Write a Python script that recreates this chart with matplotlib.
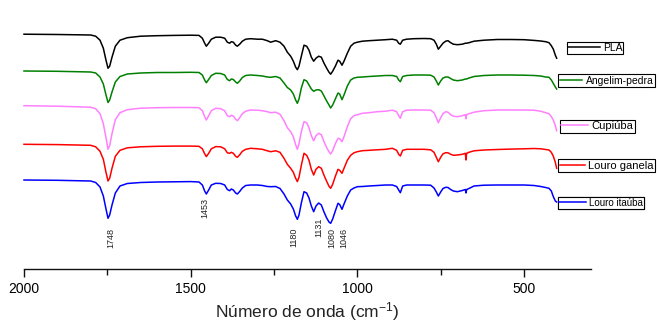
import numpy as np
import matplotlib
matplotlib.use("Agg")
import matplotlib.pyplot as plt
from matplotlib.ticker import FixedLocator

plt.rcParams['font.family'] = ['Liberation Sans', 'DejaVu Sans']
plt.rcParams['mathtext.fontset'] = 'custom'
plt.rcParams['mathtext.rm'] = 'Liberation Sans'
plt.rcParams['mathtext.it'] = 'Liberation Sans:italic'

# ---------------- data ----------------
wavenumber = [
    2000, 1900, 1800, 1785, 1772, 1762, 1754, 1748, 1743, 1736,
    1726, 1712, 1690, 1650, 1600, 1550, 1500, 1475, 1465, 1458,
    1453, 1446, 1438, 1425, 1410, 1398, 1390, 1383, 1378, 1372,
    1365, 1360, 1353, 1345, 1335, 1320, 1300, 1285, 1270, 1260,
    1245, 1232, 1220, 1210, 1200, 1192, 1185, 1180, 1175, 1168,
    1160, 1152, 1145, 1138, 1131, 1124, 1116, 1108, 1100, 1092,
    1085, 1080, 1074, 1066, 1058, 1053, 1046, 1040, 1030, 1020,
    1010, 1000, 985, 965, 940, 915, 895, 882, 876, 871,
    864, 852, 830, 800, 780, 770, 763, 757, 750, 743,
    735, 728, 720, 712, 700, 685, 676, 674, 672, 665,
    650, 620, 580, 540, 500, 470, 450, 435, 425, 418,
    412, 406, 402,
]

# transmittance (%) of each sample
pla = [
    100, 99.7, 99.2, 98, 94, 86, 74, 66, 68, 77,
    88, 94, 96.5, 98, 98.5, 98.8, 99, 98.8, 96, 91,
    88, 91, 95, 97, 97, 96, 92, 91, 92.5, 92,
    89, 88, 90, 93, 95, 95.5, 95, 95, 93.5, 92,
    93.5, 92, 88, 82, 78, 73, 67, 64.5, 68, 78,
    89, 88, 84, 77, 73, 76, 78, 77, 71, 66,
    62, 60, 63, 68, 74, 73, 69, 73, 81, 88,
    91, 92, 93, 93.5, 94, 94.5, 95, 94, 91, 90,
    94, 95, 95.5, 95.7, 95.5, 94, 90, 85, 88, 91,
    93, 93.5, 91.5, 90, 89.5, 90, 91, 91, 91, 91.5,
    93, 94, 94.7, 94.7, 94.5, 93.8, 93.2, 92.5, 91.5, 88.5,
    85, 79, 76,
]
angelim_pedra = [
    100, 99.7, 99, 98, 94, 87, 76, 68.5, 71, 79,
    89, 94.5, 97, 98, 98.5, 98.5, 98.7, 98.5, 96, 91,
    88.3, 91.5, 95.5, 97.7, 97.5, 96, 91.5, 90.3, 92, 91.5,
    89, 87.7, 90, 93.5, 95.5, 96, 95.5, 95, 94, 93.7,
    94.5, 93, 88, 83.5, 81, 77, 71, 67.7, 72, 83,
    91.3, 90, 86, 82, 79.7, 81, 81.3, 80, 75, 70,
    66, 63, 66, 72, 78, 77, 71.3, 76, 85, 91,
    93, 93.7, 94, 94.5, 95, 95.5, 95.5, 94.5, 91, 89.3,
    94.5, 95.5, 96, 96, 95.8, 94, 90, 86, 90, 93,
    94, 94, 92.5, 91, 90.3, 91, 92, 92, 92, 93,
    94.5, 95.5, 96, 96, 95.8, 95.5, 95, 94, 93.7, 91,
    87.5, 84, 82,
]
cupiuba = [
    100, 99.5, 98.5, 97, 92, 82, 68, 56.4, 60, 72,
    86, 93, 96, 97.5, 98, 98.2, 98.2, 98, 95, 89,
    85.7, 90, 95, 97.4, 97, 95, 90, 89, 90.5, 89.5,
    86.5, 85, 88, 92, 94.5, 95.7, 95.5, 95, 94, 93,
    93.5, 91.5, 85, 78, 74, 69, 61, 56.4, 62, 74,
    84, 83, 78, 70, 65, 70, 72.4, 71, 64, 58,
    54, 51.7, 55, 62, 67.4, 67, 64, 69, 79, 87,
    90, 91, 92.4, 93, 94, 94.5, 95.5, 94, 90, 87.4,
    94, 95.5, 95.7, 95.7, 95.5, 93, 88, 83, 88, 92,
    94, 93.5, 91, 89.5, 89, 90, 91, 87, 91, 92,
    93.5, 95, 95.7, 95.7, 95.7, 95.5, 94.5, 93, 92, 89,
    85.7, 80, 75,
]
louro_ganela = [
    100, 99.7, 99, 97.5, 93, 85, 72, 63.3, 66, 76,
    88, 94, 96.5, 97.5, 98, 98.2, 98.2, 98, 95.5, 90.5,
    87.7, 91, 95.5, 97.7, 97.5, 95.5, 91.5, 91, 92, 91,
    88, 87, 89.5, 93, 95, 96, 95.5, 95, 93.5, 92.6,
    93.5, 92, 86, 80, 76, 72, 66, 62.7, 67, 79,
    91, 89, 84, 75, 69.3, 75, 77.6, 76, 69, 63,
    58, 56, 60, 68, 75, 74, 71, 76, 84, 89,
    91.5, 92.6, 93.6, 94, 94.5, 95, 96, 94, 90, 88.3,
    94, 95, 95, 95, 94.5, 92, 87, 82.6, 87, 90.5,
    91.6, 91.5, 90, 89, 89.3, 90, 91, 84.3, 91, 92,
    93.5, 94.3, 94.8, 95.2, 95.5, 95.8, 95.5, 94.8, 94.3, 92,
    88, 82, 76,
]
louro_itauba = [
    100, 99.7, 99, 97.5, 93, 84, 71, 61.7, 65, 75,
    87, 94, 96.5, 97.5, 98, 98.2, 98.4, 98, 95, 89,
    86, 90, 95, 96.7, 96.5, 95, 90.5, 89.3, 91, 90,
    87, 86, 88.5, 92, 94.5, 95, 95, 94.5, 93.5, 93.3,
    93.5, 91.5, 86, 80, 76, 71, 64, 60.7, 65, 77,
    88.3, 87, 82, 74, 68.3, 74, 77, 75, 68, 62,
    58, 56.7, 61, 69, 76.7, 75.5, 70.7, 76, 84, 90,
    92, 93.3, 93.5, 94, 94.5, 95, 95, 93.5, 90, 87.3,
    94, 95, 95, 95, 94.8, 92, 88, 84, 88, 91.5,
    92.7, 92.5, 90.5, 89, 88.3, 89.5, 90.5, 87, 90.5, 91.5,
    94, 94.8, 95, 95, 95, 94.5, 93.5, 92.5, 91.7, 89,
    83.3, 79, 78,
]

series_names = ["PLA", "Angelim-pedra", "Cupiúba", "Louro ganela", "Louro itaúba"]
series_values = [pla, angelim_pedra, cupiuba, louro_ganela, louro_itauba]

peak_labels = ["1748", "1453", "1180", "1131", "1080", "1046"]

axis_ticks = [2000, 1500, 1000, 500]
axis_minor_ticks = [1750, 1250, 750]

# ---------------- layout / style ----------------
W, H = 659, 322
AX_BOTTOM_PX = 268.5
colors = ["#000000", "#008000", "#FF80FF", "#FF0000", "#0000FF"]
offsets = [-134.2, -171.0, -205.7, -244.3, -280.0]   # vertical stacking of traces
label_x = [1740, 1457, 1190, 1117, 1077, 1040]       # text positions
label_top = [-228, -198, -228, -218, -228, -228]
legend_pos = [(567, 41.5), (558.3, 74.3), (560, 120), (558.3, 159.3), (558.3, 196.7)]
legend_fs = [7.5, 7.5, 8, 8, 7]
legend_hl = [3.0, 2.2, 2.4, 2.25, 2.7]

fig = plt.figure(figsize=(W / 100, H / 100), dpi=100)

ax = fig.add_axes([24 / W, (H - AX_BOTTOM_PX) / H, (1700 / 3.0) / W, AX_BOTTOM_PX / H])
ax.set_xlim(2000, 300)
ax.set_ylim(-AX_BOTTOM_PX, 0)
ax.patch.set_visible(False)
for s in ["top", "left", "right"]:
    ax.spines[s].set_visible(False)
ax.spines["bottom"].set_linewidth(1.0)
ax.spines["bottom"].set_color("#111111")
ax.set_yticks([])

lines = []
for name, vals, off, c in zip(series_names, series_values, offsets, colors):
    ln, = ax.plot(wavenumber, np.array(vals) + off, color=c, lw=1.1, label=name,
                  clip_on=False)
    lines.append(ln)

for lab, x, y in zip(peak_labels, label_x, label_top):
    ax.text(x, y, lab, rotation=90, ha="center", va="top", fontsize=6.5, color="#222222")

# legends (one box per trace)
for i, (ln, name) in enumerate(zip(lines, series_names)):
    x0, y0 = legend_pos[i]
    leg = ax.legend(handles=[ln], labels=[name], loc="upper left",
                    bbox_to_anchor=(x0 / W, 1 - y0 / H), bbox_transform=fig.transFigure,
                    fontsize=legend_fs[i], frameon=True, fancybox=False, framealpha=1,
                    edgecolor="black", borderpad=0.12, borderaxespad=0,
                    handlelength=legend_hl[i], handletextpad=0.3)
    leg.get_frame().set_linewidth(0.8)
    ax.add_artist(leg)

ax.xaxis.set_major_locator(FixedLocator(axis_ticks))
ax.xaxis.set_minor_locator(FixedLocator(axis_minor_ticks))
ax.tick_params(axis="x", which="major", direction="out", length=6, width=1.0,
               labelsize=10, pad=3.5, color="#111111")
ax.tick_params(axis="x", which="minor", direction="out", length=4, width=1.0, color="#111111")
ax.set_xlabel("Número de onda (cm$^{-1}$)", fontsize=12.5, labelpad=3, color="#222222")

fig.savefig("out.png", dpi=100)
